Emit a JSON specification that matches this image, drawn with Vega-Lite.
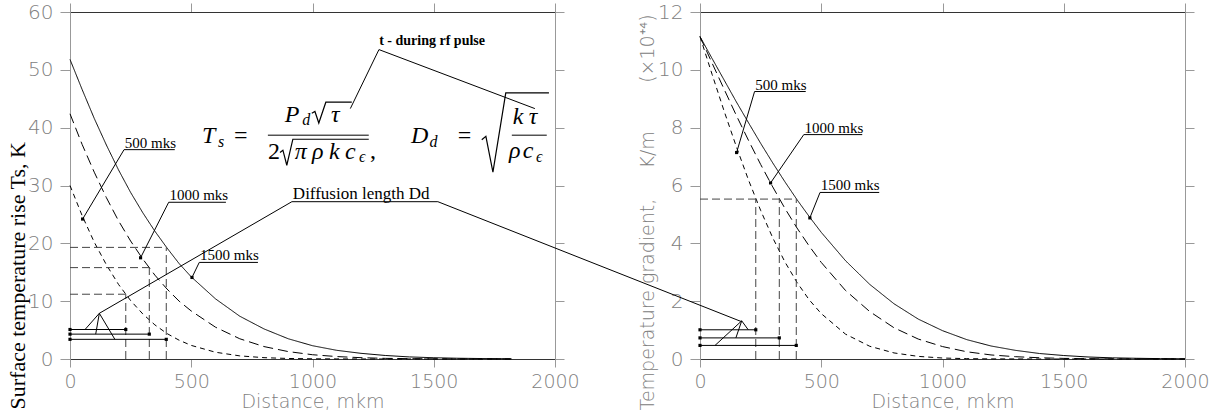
{
 "$schema": "https://vega.github.io/schema/vega-lite/v6.json",
 "width": 1115,
 "height": 347,
 "autosize": {"type": "none"},
 "padding": {"left": 70, "top": 12, "right": 41, "bottom": 58},
 "background": "white",
 "config": {
  "view": {"stroke": null},
  "axis": {"grid": false, "labelFont": "DejaVu Sans", "labelFontWeight": 200, "labelColor": "#808080", "labelFontSize": 19, "tickColor": "#999999", "domainColor": "#999999", "titleFont": "DejaVu Sans", "titleFontWeight": 200, "titleColor": "#808080", "titleFontSize": 19, "labelFlush": false, "labelOverlap": false, "labelBound": false, "format": "d"}
 },
 "datasets": {
  "curvesL": [
   {"t":"1500","x":0,"y":51.8},{"t":"1500","x":50,"y":46.6},{"t":"1500","x":100,"y":41.6},{"t":"1500","x":150,"y":37.0},{"t":"1500","x":200,"y":32.7},{"t":"1500","x":250,"y":28.8},{"t":"1500","x":300,"y":25.3},{"t":"1500","x":350,"y":22.1},{"t":"1500","x":400,"y":19.2},{"t":"1500","x":450,"y":16.5},{"t":"1500","x":500,"y":14.2},{"t":"1500","x":600,"y":10.4},{"t":"1500","x":700,"y":7.4},{"t":"1500","x":800,"y":5.2},{"t":"1500","x":900,"y":3.5},{"t":"1500","x":1000,"y":2.3},{"t":"1500","x":1100,"y":1.5},{"t":"1500","x":1200,"y":0.98},{"t":"1500","x":1300,"y":0.61},{"t":"1500","x":1400,"y":0.36},{"t":"1500","x":1500,"y":0.22},{"t":"1500","x":1600,"y":0.13},{"t":"1500","x":1700,"y":0.08},{"t":"1500","x":1820,"y":0.04},
   {"t":"1000","x":0,"y":42.4},{"t":"1000","x":50,"y":37.1},{"t":"1000","x":100,"y":32.3},{"t":"1000","x":150,"y":27.9},{"t":"1000","x":200,"y":23.9},{"t":"1000","x":250,"y":20.4},{"t":"1000","x":300,"y":17.3},{"t":"1000","x":350,"y":14.5},{"t":"1000","x":400,"y":12.1},{"t":"1000","x":450,"y":10.0},{"t":"1000","x":500,"y":8.3},{"t":"1000","x":600,"y":5.5},{"t":"1000","x":700,"y":3.5},{"t":"1000","x":800,"y":2.15},{"t":"1000","x":900,"y":1.28},{"t":"1000","x":1000,"y":0.74},{"t":"1000","x":1100,"y":0.42},{"t":"1000","x":1200,"y":0.23},{"t":"1000","x":1300,"y":0.11},{"t":"1000","x":1400,"y":0.06},{"t":"1000","x":1500,"y":0.03},{"t":"1000","x":1600,"y":0.015},{"t":"1000","x":1820,"y":0},
   {"t":"500","x":0,"y":30},{"t":"500","x":50,"y":24.8},{"t":"500","x":100,"y":20.2},{"t":"500","x":150,"y":16.3},{"t":"500","x":200,"y":12.9},{"t":"500","x":250,"y":10.1},{"t":"500","x":300,"y":7.8},{"t":"500","x":350,"y":5.9},{"t":"500","x":400,"y":4.4},{"t":"500","x":450,"y":3.25},{"t":"500","x":500,"y":2.35},{"t":"500","x":600,"y":1.17},{"t":"500","x":700,"y":0.54},{"t":"500","x":800,"y":0.23},{"t":"500","x":900,"y":0.09},{"t":"500","x":1000,"y":0.036},{"t":"500","x":1100,"y":0.015},{"t":"500","x":1200,"y":0.005},{"t":"500","x":1820,"y":0}
  ],
  "curvesR": [
   {"t":"1500","x":0,"y":11.15},{"t":"1500","x":50,"y":10.39},{"t":"1500","x":100,"y":9.64},{"t":"1500","x":150,"y":8.89},{"t":"1500","x":200,"y":8.17},{"t":"1500","x":250,"y":7.46},{"t":"1500","x":300,"y":6.78},{"t":"1500","x":350,"y":6.13},{"t":"1500","x":400,"y":5.51},{"t":"1500","x":450,"y":4.93},{"t":"1500","x":500,"y":4.38},{"t":"1500","x":600,"y":3.40},{"t":"1500","x":700,"y":2.58},{"t":"1500","x":800,"y":1.91},{"t":"1500","x":900,"y":1.38},{"t":"1500","x":1000,"y":0.98},{"t":"1500","x":1100,"y":0.67},{"t":"1500","x":1200,"y":0.45},{"t":"1500","x":1300,"y":0.30},{"t":"1500","x":1400,"y":0.19},{"t":"1500","x":1500,"y":0.12},{"t":"1500","x":1600,"y":0.07},{"t":"1500","x":1700,"y":0.04},{"t":"1500","x":1800,"y":0.025},{"t":"1500","x":1900,"y":0.013},{"t":"1500","x":2000,"y":0.007},
   {"t":"1000","x":0,"y":11.15},{"t":"1000","x":50,"y":10.23},{"t":"1000","x":100,"y":9.32},{"t":"1000","x":150,"y":8.42},{"t":"1000","x":200,"y":7.56},{"t":"1000","x":250,"y":6.73},{"t":"1000","x":300,"y":5.95},{"t":"1000","x":350,"y":5.21},{"t":"1000","x":400,"y":4.53},{"t":"1000","x":450,"y":3.91},{"t":"1000","x":500,"y":3.34},{"t":"1000","x":600,"y":2.37},{"t":"1000","x":700,"y":1.64},{"t":"1000","x":800,"y":1.08},{"t":"1000","x":900,"y":0.69},{"t":"1000","x":1000,"y":0.43},{"t":"1000","x":1100,"y":0.25},{"t":"1000","x":1200,"y":0.14},{"t":"1000","x":1300,"y":0.08},{"t":"1000","x":1400,"y":0.043},{"t":"1000","x":1500,"y":0.021},{"t":"1000","x":1600,"y":0.01},{"t":"1000","x":1800,"y":0.002},{"t":"1000","x":2000,"y":0},
   {"t":"500","x":0,"y":11.15},{"t":"500","x":50,"y":9.84},{"t":"500","x":100,"y":8.56},{"t":"500","x":150,"y":7.34},{"t":"500","x":200,"y":6.19},{"t":"500","x":250,"y":5.14},{"t":"500","x":300,"y":4.19},{"t":"500","x":350,"y":3.36},{"t":"500","x":400,"y":2.65},{"t":"500","x":450,"y":2.05},{"t":"500","x":500,"y":1.57},{"t":"500","x":600,"y":0.86},{"t":"500","x":700,"y":0.44},{"t":"500","x":800,"y":0.21},{"t":"500","x":900,"y":0.09},{"t":"500","x":1000,"y":0.034},{"t":"500","x":1100,"y":0.012},{"t":"500","x":1200,"y":0.004},{"t":"500","x":1400,"y":0},{"t":"500","x":2000,"y":0}
  ],
  "guideL": [
   {"x":230,"y":0,"x2":230,"y2":11.2},{"x":327,"y":0,"x2":327,"y2":15.8},{"x":397,"y":0,"x2":397,"y2":19.3},
   {"x":0,"y":11.2,"x2":230,"y2":11.2},{"x":0,"y":15.8,"x2":327,"y2":15.8},{"x":0,"y":19.3,"x2":397,"y2":19.3}
  ],
  "guideR": [
   {"x":230,"y":0,"x2":230,"y2":5.53},{"x":327,"y":0,"x2":327,"y2":5.53},{"x":397,"y":0,"x2":397,"y2":5.53},
   {"x":0,"y":5.53,"x2":397,"y2":5.53}
  ],
  "segL": [
   {"x":0,"y":5.1,"x2":230,"y2":5.1},{"x":0,"y":4.3,"x2":327,"y2":4.3},{"x":0,"y":3.4,"x2":397,"y2":3.4},
   {"x":121,"y":7.9,"x2":62,"y2":5.1},{"x":121,"y":7.9,"x2":106,"y2":4.3},{"x":121,"y":7.9,"x2":185,"y2":3.4},
   {"x":121,"y":7.9,"x2":915,"y2":27.2},{"x":915,"y":27.2,"x2":1517,"y2":27.2},{"x":1517,"y":27.2,"x2":2769,"y2":6.46},
   {"x":52,"y":24.2,"x2":223,"y2":36.2},{"x":223,"y":36.2,"x2":432,"y2":36.2},
   {"x":291,"y":17.5,"x2":407,"y2":27.1},{"x":407,"y":27.1,"x2":643,"y2":27.1},
   {"x":503,"y":14.1,"x2":533,"y2":16.7},{"x":533,"y":16.7,"x2":775,"y2":16.7},
   {"x":1274,"y":53.5,"x2":1156,"y2":43.3},{"x":1274,"y":53.5,"x2":1917,"y2":43.3},
   {"x":816,"y":38.7,"x2":1232,"y2":38.7},{"x":1822,"y":38.7,"x2":1966,"y2":38.7}
  ],
  "segR": [
   {"x":0,"y":1.01,"x2":230,"y2":1.01},{"x":0,"y":0.73,"x2":327,"y2":0.73},{"x":0,"y":0.47,"x2":397,"y2":0.47},
   {"x":172,"y":1.32,"x2":199,"y2":1.01},{"x":172,"y":1.32,"x2":148,"y2":0.73},{"x":172,"y":1.32,"x2":62,"y2":0.47},
   {"x":151,"y":7.14,"x2":225,"y2":9.25},{"x":225,"y":9.25,"x2":436,"y2":9.25},
   {"x":291,"y":6.09,"x2":428,"y2":7.76},{"x":428,"y":7.76,"x2":669,"y2":7.76},
   {"x":453,"y":4.88,"x2":495,"y2":5.76},{"x":495,"y":5.76,"x2":739,"y2":5.76}
  ],
  "ptsL": [
   {"x":0,"y":5.1},{"x":230,"y":5.1},{"x":0,"y":4.3},{"x":327,"y":4.3},{"x":0,"y":3.4},{"x":397,"y":3.4},
   {"x":52,"y":24.2},{"x":291,"y":17.5},{"x":503,"y":14.1}
  ],
  "ptsR": [
   {"x":0,"y":1.01},{"x":230,"y":1.01},{"x":0,"y":0.73},{"x":327,"y":0.73},{"x":0,"y":0.47},{"x":397,"y":0.47},
   {"x":151,"y":7.14},{"x":291,"y":6.09},{"x":453,"y":4.88}
  ],
  "labL": [
   {"x":226,"y":36.2,"s":"500 mks"},{"x":410,"y":27.1,"s":"1000 mks"},{"x":536,"y":16.7,"s":"1500 mks"}
  ],
  "labR": [
   {"x":228,"y":9.25,"s":"500 mks"},{"x":431,"y":7.76,"s":"1000 mks"},{"x":498,"y":5.76,"s":"1500 mks"}
  ],
  "noteDiff": [{"x":919,"y":27.2,"s":"Diffusion length Dd"}],
  "notePulse": [{"x":1275,"y":54.25,"s":"t - during rf pulse"}],
  "fBigIt": [
   {"x":544,"y":37.3,"s":"T"},{"x":886,"y":41.0,"s":"P"},{"x":1076,"y":41.0,"s":"τ"},
   {"x":927,"y":34.6,"s":"π"},{"x":998,"y":34.6,"s":"ρ"},{"x":1068,"y":34.6,"s":"k"},{"x":1134,"y":34.6,"s":"c"},
   {"x":1406,"y":37.3,"s":"D"},{"x":1826,"y":40.7,"s":"k"},{"x":1892,"y":40.7,"s":"τ"},
   {"x":1810,"y":34.7,"s":"ρ"},{"x":1867,"y":34.7,"s":"c"}
  ],
  "fBigUp": [
   {"x":676,"y":37.3,"s":"="},{"x":816,"y":34.6,"s":"2"},{"x":1237,"y":34.7,"s":","},{"x":1599,"y":37.3,"s":"="}
  ],
  "fSmall": [
   {"x":610,"y":36.6,"s":"s"},{"x":958,"y":40.4,"s":"d"},{"x":1192,"y":34.0,"s":"ϵ"},{"x":1482,"y":36.6,"s":"d"},{"x":1922,"y":34.0,"s":"ϵ"}
  ],
  "radical": [
   {"g":"a","o":1,"x":997,"y":42.5},{"g":"a","o":2,"x":1010,"y":42.8},{"g":"a","o":3,"x":1026,"y":40.8},{"g":"a","o":4,"x":1055,"y":44.4},{"g":"a","o":5,"x":1162,"y":44.4},
   {"g":"b","o":1,"x":866,"y":35.7},{"g":"b","o":2,"x":878,"y":36.1},{"g":"b","o":3,"x":894,"y":33.5},{"g":"b","o":4,"x":919,"y":38.0},{"g":"b","o":5,"x":1232,"y":38.0},
   {"g":"c","o":1,"x":1698,"y":37.9},{"g":"c","o":2,"x":1715,"y":38.5},{"g":"c","o":3,"x":1744,"y":32.3},{"g":"c","o":4,"x":1797,"y":46.0},{"g":"c","o":5,"x":1975,"y":46.0}
  ]
 },
 "resolve": {"scale": {"x": "independent", "y": "independent"}},
 "layer": [
  {
   "layer": [
    {
     "data": {"name": "curvesL"},
     "mark": {"type": "line", "color": "black", "strokeWidth": 1},
     "encoding": {
      "x": {"field": "x", "type": "quantitative", "scale": {"domain": [0, 2000], "range": [0, 485], "nice": false, "zero": false},
            "axis": {"orient": "bottom", "values": [0, 500, 1000, 1500, 2000], "title": "Distance, mkm", "tickSize": 8, "labelPadding": 5, "domainColor": "#333333", "titleY": 42, "titleBaseline": "middle"}},
      "y": {"field": "y", "type": "quantitative", "scale": {"domain": [0, 60], "nice": false, "zero": false},
            "axis": {"orient": "left", "values": [0, 10, 20, 30, 40, 50, 60], "title": "Surface temperature rise Ts, K", "titleFont": "Liberation Serif", "titleFontWeight": "normal", "titleColor": "black", "titleFontSize": 22, "titleX": -53, "titleY": 397, "titleAlign": "left", "titleBaseline": "middle", "tickSize": 10, "labelPadding": 7, "labelFontSize": 20}},
      "strokeDash": {"field": "t", "type": "nominal", "scale": {"domain": ["500", "1000", "1500"], "range": [[5, 4], [10, 5], [1, 0]]}, "legend": null}
     }
    },
    {
     "data": {"name": "guideL"},
     "mark": {"type": "rule", "color": "#444444", "strokeDash": [8, 4], "strokeWidth": 1},
     "encoding": {
      "x": {"field": "x", "type": "quantitative", "scale": {"domain": [0, 2000], "range": [0, 485], "nice": false, "zero": false},
            "axis": {"orient": "top", "values": [0, 500, 1000, 1500, 2000], "labels": false, "title": null, "tickSize": 9, "domainColor": "#333333"}},
      "x2": {"field": "x2"},
      "y": {"field": "y", "type": "quantitative", "scale": {"domain": [0, 60], "nice": false, "zero": false},
            "axis": {"orient": "right", "offset": -630, "values": [0, 10, 20, 30, 40, 50, 60], "labels": false, "title": null, "tickSize": 9}},
      "y2": {"field": "y2"}
     }
    },
    {
     "data": {"name": "segL"},
     "mark": {"type": "rule", "color": "black", "strokeWidth": 1},
     "encoding": {
      "x": {"field": "x", "type": "quantitative", "scale": {"domain": [0, 2000], "range": [0, 485], "nice": false, "zero": false}, "axis": null},
      "x2": {"field": "x2"},
      "y": {"field": "y", "type": "quantitative", "scale": {"domain": [0, 60], "nice": false, "zero": false}, "axis": null},
      "y2": {"field": "y2"}
     }
    },
    {
     "data": {"name": "radical"},
     "mark": {"type": "line", "color": "black", "strokeWidth": 1.2},
     "encoding": {
      "x": {"field": "x", "type": "quantitative", "scale": {"domain": [0, 2000], "range": [0, 485], "nice": false, "zero": false}, "axis": null},
      "y": {"field": "y", "type": "quantitative", "scale": {"domain": [0, 60], "nice": false, "zero": false}, "axis": null},
      "detail": {"field": "g", "type": "nominal"},
      "order": {"field": "o", "type": "quantitative"}
     }
    },
    {
     "data": {"name": "ptsL"},
     "mark": {"type": "point", "shape": "square", "filled": true, "size": 10, "color": "black", "opacity": 1},
     "encoding": {
      "x": {"field": "x", "type": "quantitative", "scale": {"domain": [0, 2000], "range": [0, 485], "nice": false, "zero": false}, "axis": null},
      "y": {"field": "y", "type": "quantitative", "scale": {"domain": [0, 60], "nice": false, "zero": false}, "axis": null}
     }
    },
    {
     "data": {"name": "labL"},
     "mark": {"type": "text", "font": "Liberation Serif", "fontSize": 15, "align": "left", "baseline": "alphabetic", "dy": -2, "color": "black"},
     "encoding": {
      "x": {"field": "x", "type": "quantitative", "scale": {"domain": [0, 2000], "range": [0, 485], "nice": false, "zero": false}, "axis": null},
      "y": {"field": "y", "type": "quantitative", "scale": {"domain": [0, 60], "nice": false, "zero": false}, "axis": null},
      "text": {"field": "s"}
     }
    },
    {
     "data": {"name": "noteDiff"},
     "mark": {"type": "text", "font": "Liberation Serif", "fontSize": 17, "align": "left", "baseline": "alphabetic", "dy": -3, "color": "black"},
     "encoding": {
      "x": {"field": "x", "type": "quantitative", "scale": {"domain": [0, 2000], "range": [0, 485], "nice": false, "zero": false}, "axis": null},
      "y": {"field": "y", "type": "quantitative", "scale": {"domain": [0, 60], "nice": false, "zero": false}, "axis": null},
      "text": {"field": "s"}
     }
    },
    {
     "data": {"name": "notePulse"},
     "mark": {"type": "text", "font": "Liberation Serif", "fontSize": 14, "fontWeight": "bold", "align": "left", "baseline": "alphabetic", "color": "black"},
     "encoding": {
      "x": {"field": "x", "type": "quantitative", "scale": {"domain": [0, 2000], "range": [0, 485], "nice": false, "zero": false}, "axis": null},
      "y": {"field": "y", "type": "quantitative", "scale": {"domain": [0, 60], "nice": false, "zero": false}, "axis": null},
      "text": {"field": "s"}
     }
    },
    {
     "data": {"name": "fBigIt"},
     "mark": {"type": "text", "font": "Liberation Serif", "fontSize": 24, "fontStyle": "italic", "align": "left", "baseline": "alphabetic", "color": "black"},
     "encoding": {
      "x": {"field": "x", "type": "quantitative", "scale": {"domain": [0, 2000], "range": [0, 485], "nice": false, "zero": false}, "axis": null},
      "y": {"field": "y", "type": "quantitative", "scale": {"domain": [0, 60], "nice": false, "zero": false}, "axis": null},
      "text": {"field": "s"}
     }
    },
    {
     "data": {"name": "fBigUp"},
     "mark": {"type": "text", "font": "Liberation Serif", "fontSize": 24, "align": "left", "baseline": "alphabetic", "color": "black"},
     "encoding": {
      "x": {"field": "x", "type": "quantitative", "scale": {"domain": [0, 2000], "range": [0, 485], "nice": false, "zero": false}, "axis": null},
      "y": {"field": "y", "type": "quantitative", "scale": {"domain": [0, 60], "nice": false, "zero": false}, "axis": null},
      "text": {"field": "s"}
     }
    },
    {
     "data": {"name": "fSmall"},
     "mark": {"type": "text", "font": "Liberation Serif", "fontSize": 16, "fontStyle": "italic", "align": "left", "baseline": "alphabetic", "color": "black"},
     "encoding": {
      "x": {"field": "x", "type": "quantitative", "scale": {"domain": [0, 2000], "range": [0, 485], "nice": false, "zero": false}, "axis": null},
      "y": {"field": "y", "type": "quantitative", "scale": {"domain": [0, 60], "nice": false, "zero": false}, "axis": null},
      "text": {"field": "s"}
     }
    }
   ]
  },
  {
   "layer": [
    {
     "data": {"name": "curvesR"},
     "mark": {"type": "line", "color": "black", "strokeWidth": 1},
     "encoding": {
      "x": {"field": "x", "type": "quantitative", "scale": {"domain": [0, 2000], "range": [630, 1115], "nice": false, "zero": false},
            "axis": {"orient": "bottom", "values": [0, 500, 1000, 1500, 2000], "title": "Distance, mkm", "tickSize": 8, "labelPadding": 5, "domainColor": "#333333", "titleY": 42, "titleBaseline": "middle"}},
      "y": {"field": "y", "type": "quantitative", "scale": {"domain": [0, 12], "nice": false, "zero": false},
            "axis": {"orient": "left", "offset": -630, "values": [0, 2, 4, 6, 8, 10, 12], "title": "Temperature gradient,\u00a0\u00a0\u00a0\u00a0\u00a0K/m\u00a0\u00a0\u00a0\u00a0\u00a0\u00a0\u00a0\u00a0(×10⁺⁴)", "titleX": -53, "titleY": 398, "titleAlign": "left", "titleBaseline": "middle", "tickSize": 10, "labelPadding": 7, "labelFontSize": 20}},
      "strokeDash": {"field": "t", "type": "nominal", "scale": {"domain": ["500", "1000", "1500"], "range": [[5, 4], [10, 5], [1, 0]]}, "legend": null}
     }
    },
    {
     "data": {"name": "guideR"},
     "mark": {"type": "rule", "color": "#444444", "strokeDash": [8, 4], "strokeWidth": 1},
     "encoding": {
      "x": {"field": "x", "type": "quantitative", "scale": {"domain": [0, 2000], "range": [630, 1115], "nice": false, "zero": false},
            "axis": {"orient": "top", "values": [0, 500, 1000, 1500, 2000], "labels": false, "title": null, "tickSize": 9, "domainColor": "#333333"}},
      "x2": {"field": "x2"},
      "y": {"field": "y", "type": "quantitative", "scale": {"domain": [0, 12], "nice": false, "zero": false},
            "axis": {"orient": "right", "values": [0, 2, 4, 6, 8, 10, 12], "labels": false, "title": null, "tickSize": 9}},
      "y2": {"field": "y2"}
     }
    },
    {
     "data": {"name": "segR"},
     "mark": {"type": "rule", "color": "black", "strokeWidth": 1},
     "encoding": {
      "x": {"field": "x", "type": "quantitative", "scale": {"domain": [0, 2000], "range": [630, 1115], "nice": false, "zero": false}, "axis": null},
      "x2": {"field": "x2"},
      "y": {"field": "y", "type": "quantitative", "scale": {"domain": [0, 12], "nice": false, "zero": false}, "axis": null},
      "y2": {"field": "y2"}
     }
    },
    {
     "data": {"name": "ptsR"},
     "mark": {"type": "point", "shape": "square", "filled": true, "size": 10, "color": "black", "opacity": 1},
     "encoding": {
      "x": {"field": "x", "type": "quantitative", "scale": {"domain": [0, 2000], "range": [630, 1115], "nice": false, "zero": false}, "axis": null},
      "y": {"field": "y", "type": "quantitative", "scale": {"domain": [0, 12], "nice": false, "zero": false}, "axis": null}
     }
    },
    {
     "data": {"name": "labR"},
     "mark": {"type": "text", "font": "Liberation Serif", "fontSize": 15, "align": "left", "baseline": "alphabetic", "dy": -2, "color": "black"},
     "encoding": {
      "x": {"field": "x", "type": "quantitative", "scale": {"domain": [0, 2000], "range": [630, 1115], "nice": false, "zero": false}, "axis": null},
      "y": {"field": "y", "type": "quantitative", "scale": {"domain": [0, 12], "nice": false, "zero": false}, "axis": null},
      "text": {"field": "s"}
     }
    }
   ]
  }
 ]
}
